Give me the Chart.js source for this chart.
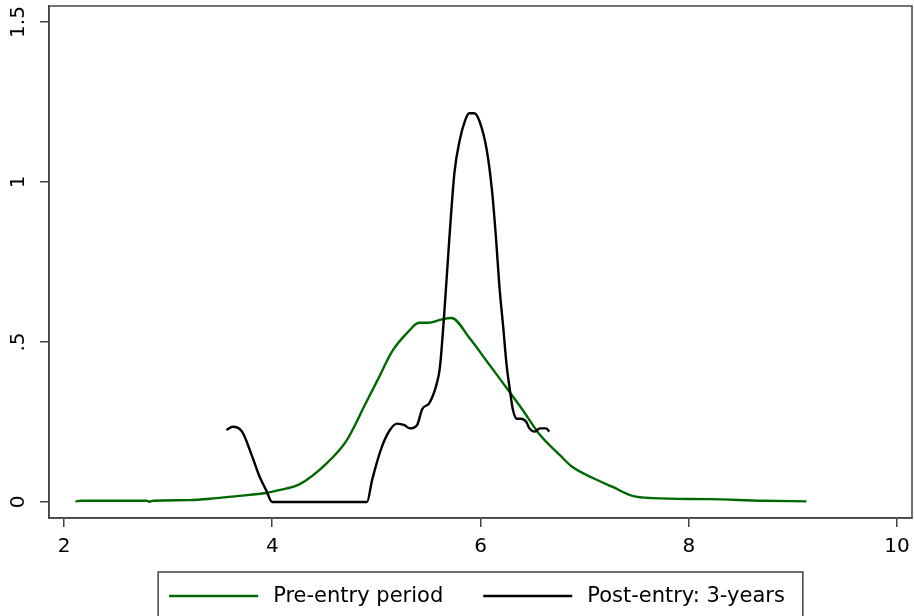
<!DOCTYPE html>
<html>
<head>
<meta charset="utf-8">
<script src="https://cdn.jsdelivr.net/npm/chart.js@4.4.1/dist/chart.umd.min.js"></script>
<style>
  html, body { margin: 0; padding: 0; background: #fff; }
  #wrap { width: 914px; height: 616px; position: relative; }
</style>
</head>
<body>
<div id="wrap"><canvas id="myChart"></canvas></div>
<script>
// kernel density, pre-entry period
const preX = [2.11, 2.17, 2.79, 2.82, 2.86, 3.20, 3.46, 3.68, 3.94, 4.05,
  4.26, 4.52, 4.71, 4.90, 5.01, 5.15, 5.30, 5.41, 5.50, 5.62,
  5.72, 5.90, 6.06, 6.22, 6.40, 6.57, 6.76, 6.88, 7.08, 7.27,
  7.46, 7.65, 8.20, 8.71, 9.13];
const preY = [0.002, 0.004, 0.004, 0.001, 0.004, 0.006, 0.012, 0.019, 0.028, 0.036,
  0.055, 0.12, 0.19, 0.31, 0.38, 0.47, 0.53, 0.56, 0.56, 0.57,
  0.575, 0.51, 0.44, 0.37, 0.29, 0.21, 0.147, 0.11, 0.075, 0.047,
  0.019, 0.012, 0.009, 0.004, 0.002];

// kernel density, post-entry 3 years
const postX = [3.56, 3.62, 3.71, 3.81, 3.88, 3.94, 4.00, 4.91,
  4.96, 5.05, 5.13, 5.20, 5.27, 5.32, 5.39, 5.44, 5.51, 5.58,
  5.61, 5.65, 5.70, 5.75, 5.80, 5.85, 5.89, 5.94, 5.99, 6.06,
  6.11, 6.15, 6.18, 6.22, 6.25, 6.28, 6.31, 6.35, 6.39, 6.44,
  6.47, 6.52, 6.57, 6.63, 6.66];
const postY = [0.225, 0.235, 0.22, 0.14, 0.078, 0.038, 0, 0,
  0.07, 0.17, 0.225, 0.245, 0.24, 0.23, 0.24, 0.29, 0.31, 0.37,
  0.42, 0.58, 0.82, 1.03, 1.13, 1.19, 1.215, 1.215, 1.19, 1.10,
  0.975, 0.82, 0.68, 0.54, 0.43, 0.355, 0.29, 0.26, 0.26, 0.25,
  0.23, 0.22, 0.23, 0.23, 0.22];

const seriesLabels = ['Pre-entry period', 'Post-entry: 3-years'];
const xTicks = [2, 4, 6, 8, 10];
const yTicks = [0, 0.5, 1, 1.5];
const yTickLabels = ['0', '.5', '1', '1.5'];

const green = '#006800';
const axisColor = '#444';
const font = 'DejaVu Sans';

function toPoints(xs, ys) {
  return xs.map((x, i) => ({ x: x, y: ys[i] }));
}

// box around the plot, rotated y labels, legend in a frame
const stataLook = {
  id: 'stataLook',
  afterDraw(chart) {
    const c = chart.ctx;
    const area = chart.chartArea;
    const yScale = chart.scales.y;

    c.save();
    c.strokeStyle = axisColor;
    c.lineWidth = 1.5;
    c.strokeRect(area.left, area.top, area.right - area.left, area.bottom - area.top);

    c.fillStyle = '#000';
    c.font = '20px "' + font + '"';
    c.textAlign = 'center';
    c.textBaseline = 'middle';
    yTicks.forEach((v, i) => {
      const py = yScale.getPixelForValue(v);
      c.save();
      c.translate(19, py);
      c.rotate(-Math.PI / 2);
      c.fillText(yTickLabels[i], 0, 0);
      c.restore();
    });

    // legend
    const ds = chart.data.datasets;
    c.font = '21px "' + font + '"';
    const lineLen = 89, gap = 15, itemGap = 40, padL = 11, padR = 18;
    const widths = seriesLabels.map(t => c.measureText(t).width);
    const inner = widths.reduce((s, w) => s + lineLen + gap + w, 0) + itemGap * (widths.length - 1);
    const boxW = inner + padL + padR;
    const cx = (area.left + area.right) / 2;
    const boxL = cx - boxW / 2;
    const boxT = 572;
    c.strokeStyle = axisColor;
    c.lineWidth = 1.5;
    c.strokeRect(boxL, boxT, boxW, 80);

    let x = boxL + padL;
    const ly = boxT + 24;
    c.textAlign = 'left';
    seriesLabels.forEach((t, i) => {
      const d = ds.find(s => s.label === t);
      c.strokeStyle = d.borderColor;
      c.lineWidth = 2.5;
      c.beginPath();
      c.moveTo(x, ly);
      c.lineTo(x + lineLen, ly);
      c.stroke();
      c.fillStyle = '#000';
      c.fillText(t, x + lineLen + gap, ly + 1);
      x += lineLen + gap + widths[i] + itemGap;
    });
    c.restore();
  }
};

const ctx = document.getElementById('myChart').getContext('2d');
const chart = new Chart(ctx, {
  type: 'line',
  data: {
    datasets: [{
      label: seriesLabels[0],
      data: toPoints(preX, preY),
      borderColor: green,
      borderWidth: 2.4,
      pointRadius: 0,
      cubicInterpolationMode: 'monotone',
      order: 1
    }, {
      label: seriesLabels[1],
      data: toPoints(postX, postY),
      borderColor: '#000',
      borderWidth: 2.4,
      pointRadius: 0,
      cubicInterpolationMode: 'monotone',
      order: 0
    }]
  },
  options: {
    responsive: true,
    maintainAspectRatio: false,
    animation: false,
    layout: { padding: { top: 6, right: 2, left: 0, bottom: 0 } },
    plugins: {
      legend: { display: false },
      tooltip: { enabled: false }
    },
    scales: {
      x: {
        type: 'linear',
        min: 1.856,
        max: 10.144,
        afterBuildTicks: (scale) => { scale.ticks = xTicks.map(v => ({ value: v })); },
        afterFit: (scale) => { scale.height = 98; scale.paddingLeft = 0; scale.paddingRight = 0; },
        ticks: {
          includeBounds: false,
          autoSkip: false,
          maxRotation: 0,
          padding: 8,
          color: '#000',
          font: { family: font, size: 20 }
        },
        grid: { drawOnChartArea: false, drawTicks: true, tickLength: 9, color: axisColor, lineWidth: 1.5 },
        border: { display: true, color: axisColor, width: 1.5 }
      },
      y: {
        type: 'linear',
        min: -0.05,
        max: 1.55,
        afterBuildTicks: (scale) => { scale.ticks = yTicks.map(v => ({ value: v })); },
        afterFit: (scale) => { scale.width = 49; scale.paddingTop = 0; scale.paddingBottom = 0; },
        ticks: {
          includeBounds: false,
          padding: 0,
          color: 'rgba(0,0,0,0)',
          font: { family: font, size: 1 },
          callback: (v) => ''
        },
        grid: { drawOnChartArea: false, drawTicks: true, tickLength: 9, color: axisColor, lineWidth: 1.5 },
        border: { display: true, color: axisColor, width: 1.5 }
      }
    }
  },
  plugins: [stataLook]
});
</script>
</body>
</html>
